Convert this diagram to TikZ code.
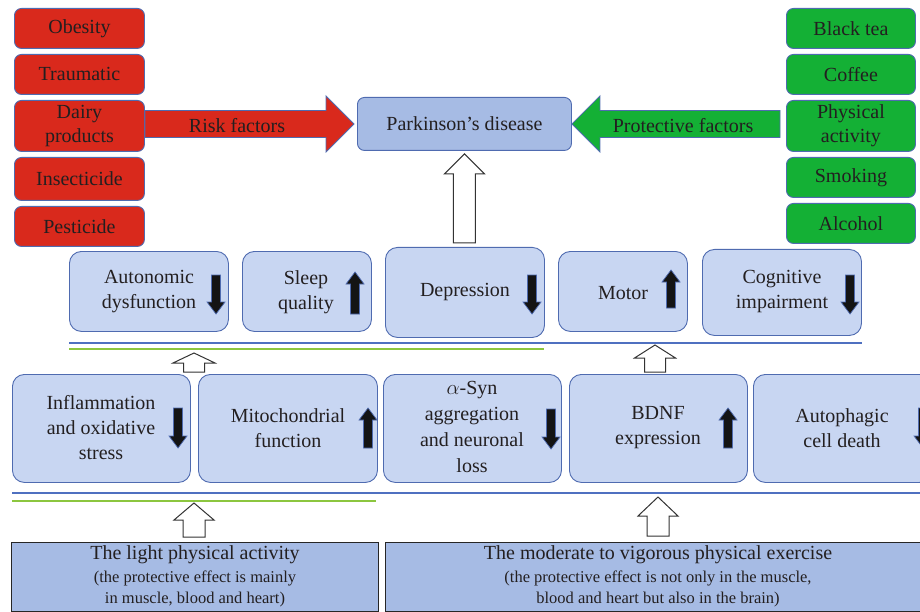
\documentclass[tikz,border=0pt]{standalone}
\usepackage{fontspec}
\setmainfont{Liberation Serif}[Ligatures=TeX]
\newfontfamily\lserif{Liberation Serif}
\usetikzlibrary{calc}
\definecolor{rfill}{HTML}{D9291C}
\definecolor{gfill}{HTML}{14B035}
\definecolor{pdfill}{HTML}{A6BBE4}
\definecolor{boxfill}{HTML}{C8D6F2}
\definecolor{bord}{HTML}{4F6BB0}
\definecolor{gline}{HTML}{8CC63F}
\definecolor{bline}{HTML}{4F70C0}
\definecolor{darkfill}{HTML}{141414}
\definecolor{txt}{HTML}{231F20}
\tikzset{
  every node/.style={font=\lserif\fontsize{20}{24}\selectfont, text=txt},
  basebox/.style={rounded corners=7pt, line width=0.9pt, draw=bord, anchor=north west, inner sep=0pt, align=center},
  redbox/.style={basebox, fill=rfill, minimum width=130pt},
  greenbox/.style={basebox, fill=gfill, minimum width=129pt},
  pdbox/.style={basebox, fill=pdfill},
  midbox/.style={basebox, fill=boxfill, rounded corners=12pt},
  botbox/.style={anchor=north west, inner sep=0pt, draw=black!85, line width=1pt, fill=pdfill},
  lbl/.style={align=center, inner sep=0pt},
  rowlbl/.style={lbl, font=\lserif\fontsize{20}{25}\selectfont},
  redarrow/.style={fill=rfill, draw=bord, line width=0.8pt},
  greenarrow/.style={fill=gfill, draw=bord, line width=0.8pt},
  openarrow/.style={fill=white, draw=black!80, line width=1pt},
  darkarr/.style={fill=darkfill, draw=bord, line width=0.7pt},
  gsep/.style={draw=gline, line width=1.6pt},
  bsep/.style={draw=bline, line width=1.1pt},
}
% horizontal block arrow: style, tail, tip, half shaft, half head, head length (signed)
\newcommand\harr[6]{\draw[#1] let \p1=(#2), \p2=(#3) in
  ({\x1},{\y2+#4}) -- ({\x2-(#6)},{\y2+#4}) -- ({\x2-(#6)},{\y2+#5}) -- ({\x2},{\y2})
  -- ({\x2-(#6)},{\y2-#5}) -- ({\x2-(#6)},{\y2-#4}) -- ({\x1},{\y2-#4}) -- cycle;}
% vertical (upward) block arrow: style, tail, tip, half shaft, half head, head length
\newcommand\uarr[6]{\draw[#1] let \p1=(#2), \p2=(#3) in
  ({\x2-#4},{\y1}) -- ({\x2-#4},{\y2-#6}) -- ({\x2-#5},{\y2-#6}) -- ({\x2},{\y2})
  -- ({\x2+#5},{\y2-#6}) -- ({\x2+#4},{\y2-#6}) -- ({\x2+#4},{\y1}) -- cycle;}
% small dark indicator arrows: x, top, bottom
\newcommand\dnind[3]{\draw[darkarr] ({#1-4.5},#2) -- ({#1+4.5},#2) -- ({#1+4.5},{#3-12}) -- ({#1+9},{#3-12}) -- (#1,#3) -- ({#1-9},{#3-12}) -- ({#1-4.5},{#3-12}) -- cycle;}
\newcommand\upind[3]{\draw[darkarr] ({#1-4.5},#3) -- ({#1+4.5},#3) -- ({#1+4.5},{#2+12}) -- ({#1+9},{#2+12}) -- (#1,#2) -- ({#1-9},{#2+12}) -- ({#1-4.5},{#2+12}) -- cycle;}
\begin{document}
\begin{tikzpicture}[x=1pt,y=-1pt]
\useasboundingbox (0,0) rectangle (920,612);
\clip (0,0) rectangle (920,612);

% separator lines
\draw[bsep] (69,343) -- (862,343);
\draw[gsep] (69,349) -- (544,349);
\draw[bsep] (12,493) -- (920,493);
\draw[gsep] (12,501) -- (376,501);

% risk factors
\node[redbox, minimum height=40pt] (obesity) at (14,8) {Obesity};
\node[redbox, minimum height=40pt] (traumatic) at (14,54) {Traumatic};
\node[redbox, minimum height=51pt] (dairy) at (14,100) {Dairy\\products};
\node[redbox, minimum height=43pt] (insect) at (14,157) {Insecticide};
\node[redbox, minimum height=40pt] (pest) at (14,206) {Pesticide};

% protective factors
\node[greenbox, minimum height=40pt] (btea) at (786,8) {Black tea};
\node[greenbox, minimum height=40pt] (coffee) at (786,54) {Coffee};
\node[greenbox, minimum height=51pt] (physact) at (786,100) {Physical\\activity};
\node[greenbox, minimum height=40pt] (smoking) at (786,157) {Smoking};
\node[greenbox, minimum height=40pt] (alcohol) at (786,203) {Alcohol};

% Parkinson's disease
\node[pdbox, minimum width=214pt, minimum height=53pt] (pd) at (357,97) {Parkinson’s disease};

% row 2
\node[midbox, minimum width=159pt, minimum height=80pt] (auto) at (69,251) {};
\node[midbox, minimum width=129pt, minimum height=80pt] (sleep) at (242,251) {};
\node[midbox, minimum width=159pt, minimum height=90pt] (dep) at (385,247) {};
\node[midbox, minimum width=129pt, minimum height=80pt] (motor) at (558,251) {};
\node[midbox, minimum width=159pt, minimum height=86pt] (cog) at (702,249) {};
\node[rowlbl] (tauto) at (149,292) {Autonomic\\dysfunction};
\node[rowlbl] (tsleep) at (306,292) {Sleep\\quality};
\node[rowlbl] (tdep) at (465,292) {Depression};
\node[rowlbl] (tmotor) at (623,293) {Motor};
\node[rowlbl] (tcog) at (782,292) {Cognitive\\impairment};
\dnind{216}{275}{314}
\upind{355}{272}{314}
\dnind{532}{275}{314}
\upind{671}{270}{308}
\dnind{850}{275}{314}

% row 3
\node[midbox, minimum width=178pt, minimum height=108pt] (infl) at (12,374) {};
\node[midbox, minimum width=179pt, minimum height=108pt] (mito) at (198,374) {};
\node[midbox, minimum width=178pt, minimum height=108pt] (asyn) at (383,374) {};
\node[midbox, minimum width=178pt, minimum height=108pt] (bdnf) at (569,374) {};
\node[midbox, minimum width=178pt, minimum height=108pt] (autoph) at (753,374) {};
\node[rowlbl] (tinfl) at (101,428) {Inflammation\\and oxidative\\stress};
\node[rowlbl] (tmito) at (288,428) {Mitochondrial\\function};
\node[lbl, font=\lserif\fontsize{20}{26}\selectfont] (tasyn) at (472,427) {$\alpha$-Syn\\aggregation\\and neuronal\\loss};
\node[rowlbl] (tbdnf) at (658,428) {BDNF\\expression};
\node[rowlbl] (tautoph) at (842,428) {Autophagic\\cell death};
\dnind{178}{408}{448}
\upind{368}{408}{448}
\dnind{551}{409}{449}
\upind{728}{408}{448}
\dnind{923}{408}{448}

% bottom boxes
\node[botbox, minimum width=367pt, minimum height=69pt] (light) at (11,542) {};
\node[botbox, minimum width=546pt, minimum height=69pt] (moder) at (385,542) {};
\node[lbl, font=\lserif\fontsize{20}{21}\selectfont] (tlight1) at (195,555) {The light physical activity};
\node[lbl, font=\lserif\fontsize{16.5}{21}\selectfont] (tlight2) at (195,589) {(the protective effect is mainly\\in muscle, blood and heart)};
\node[lbl, font=\lserif\fontsize{20}{21}\selectfont] (tmoder1) at (658,555) {The moderate to vigorous physical exercise};
\node[lbl, font=\lserif\fontsize{16.5}{21}\selectfont] (tmoder2) at (658,589) {(the protective effect is not only in the muscle,\\blood and heart but also in the brain)};

% free arrow tips
\coordinate (tipA) at (194,353);
\coordinate (tipB) at (655,345);
\coordinate (tipC) at (194,503);
\coordinate (tipD) at (658,497);

% factor arrows
\harr{redarrow}{dairy.east}{$(pd.west)+(-3,0)$}{13.5pt}{28pt}{28pt}
\node[lbl] (trisk) at (237,126) {Risk factors};
\harr{greenarrow}{$(physact.west)+(-6,0)$}{pd.east}{13.5pt}{28pt}{-28pt}
\node[lbl] (tprot) at (683,126) {Protective factors};

% open arrows
\uarr{openarrow}{$(dep.north)+(0,-4)$}{$(pd.south)+(0,3)$}{11pt}{20pt}{20pt}
\uarr{openarrow}{$(infl.north east)!0.5!(mito.north west)+(0,-2)$}{tipA}{10.5pt}{21pt}{10pt}
\uarr{openarrow}{$(bdnf.north)+(-3,-2)$}{tipB}{10.5pt}{20.5pt}{13pt}
\uarr{openarrow}{$(light.north)+(0,-5)$}{tipC}{11pt}{20pt}{17pt}
\uarr{openarrow}{$(moder.north)+(0,-6)$}{tipD}{11pt}{20pt}{19pt}
\end{tikzpicture}
\end{document}
